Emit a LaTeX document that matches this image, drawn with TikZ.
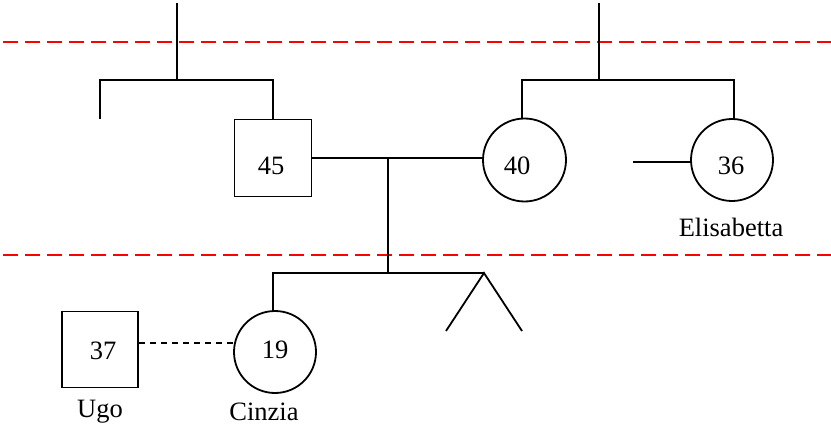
\documentclass[tikz,border=0pt]{standalone}
\usepackage{fontspec}
\setmainfont{Liberation Serif}
\usetikzlibrary{calc}
\begin{document}
\begin{tikzpicture}[x=1pt,y=-1pt,
  lw/.style={line width=1.8pt, black},
  male/.style={draw, lw, rectangle, minimum size=#1, inner sep=0pt},
  female/.style={draw, lw, circle, minimum size=#1, inner sep=0pt},
  lbl/.style={font=\fontsize{26.5}{31}\selectfont, inner sep=0pt},
  gen/.style={red, line width=2pt, dash pattern=on 15pt off 7pt},
  conn/.style={lw}
]
\useasboundingbox (0,0) rectangle (831,428);

% generation separators
\coordinate (g1l) at (3,42.5);
\coordinate (g1r) at (831,42.5);
\coordinate (g2l) at (3,254.5);
\coordinate (g2r) at (831,254.5);
\draw[gen] (g1l) -- (g1r);
\draw[gen] (g2l) -- (g2r);

% individuals
\node[male=77pt] (sq45) at (273,158) {};
\node[lbl] (t45) at (271,166) {45};
\node[female=83pt] (c40) at (524.5,160) {};
\node[lbl] (t40) at (517,166) {40};
\node[female=82pt] (c36) at (732,160) {};
\node[lbl] (t36) at (731,166) {36};
\node[lbl] (eli) at (731,227) {Elisabetta};
\node[male=76pt] (sq37) at (100,349.5) {};
\node[lbl] (t37) at (103,351) {37};
\node[lbl] (ugo) at (100,412) {Ugo};
\node[female=82pt] (c19) at (275,352) {};
\node[lbl] (t19) at (275,350) {19};
\node[lbl] (cin) at (264,412) {Cinzia};

% left family of origin
\coordinate (ltop) at (177,3);
\coordinate (ljoin) at (177,80);
\coordinate (lsib) at (100,119);
\draw[conn] (ltop) -- (ljoin);
\draw[conn] (lsib) |- (sq45.north |- ljoin) -- (sq45.north);

% right family of origin
\coordinate (rtop) at (599,3);
\coordinate (rjoin) at (599,80);
\draw[conn] (rtop) -- (rjoin);
\draw[conn] ([xshift=-2.5pt]c40.north) |- ([xshift=2pt]c36.north |- rjoin) -- ([xshift=2pt]c36.north);

% partner line of 36
\coordinate (p36) at (633,162);
\draw[conn] (p36) -- (c36.west |- p36);

% marriage 45 - 40
\draw[conn] (sq45.east) -- (c40.west |- sq45.east);
\coordinate (mid) at (388,158);
\coordinate (sib) at (388,273);
\draw[conn] (mid) -- (sib);

% children
\coordinate (tw) at (484,273);
\coordinate (twl) at (446,331);
\coordinate (twr) at (522,331);
\draw[conn] ([xshift=-2pt]c19.north) |- (tw);
\draw[conn] (twl) -- (tw) -- (twr);

% relationship 37 - 19
\draw[conn, dash pattern=on 6pt off 5pt] ([yshift=6.5pt]sq37.east) -- ($(c19.center)+(-40,-9)$);
\end{tikzpicture}
\end{document}
